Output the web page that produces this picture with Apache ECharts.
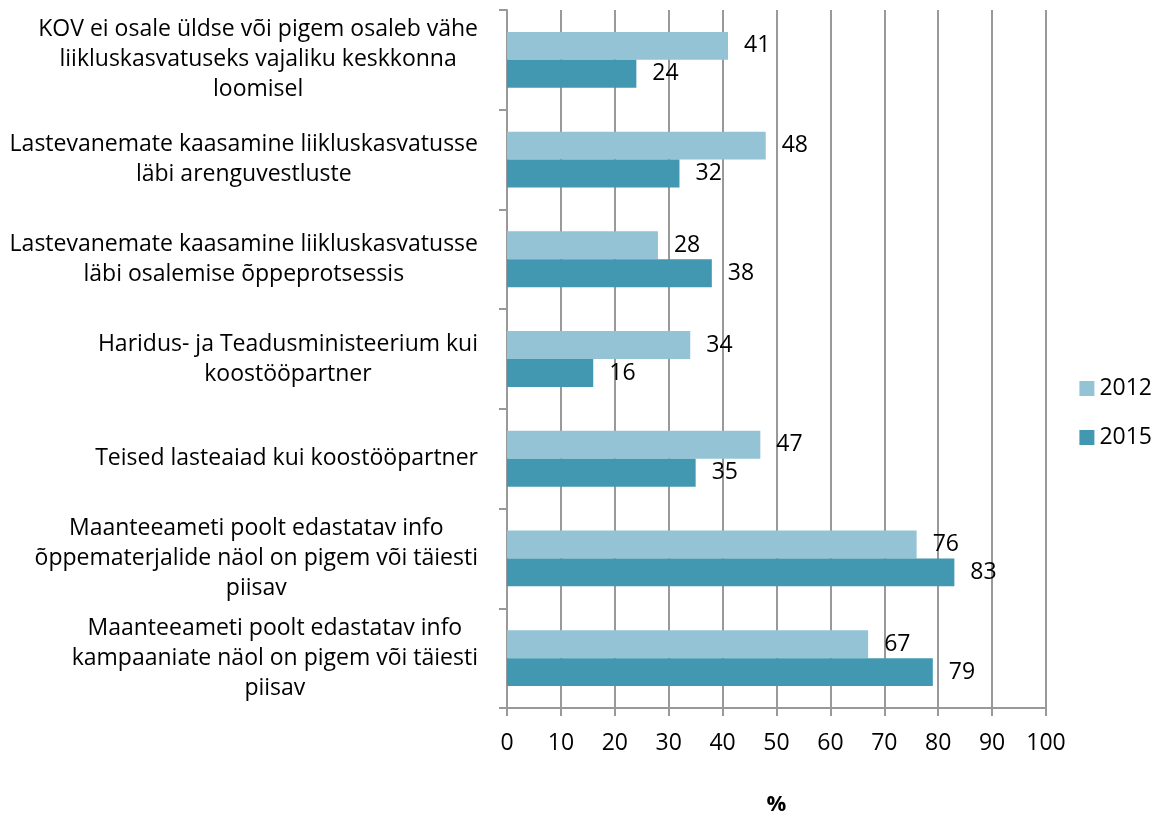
<!DOCTYPE html>
<html>
<head>
<meta charset="utf-8">
<script src="https://cdn.jsdelivr.net/npm/echarts@6/dist/echarts.min.js"></script>
<style>
  html, body { margin: 0; padding: 0; background: #fff; }
  #chart { width: 1161px; height: 814px; }
</style>
</head>
<body>
<div id="chart"></div>
<script>
const categories = [
  'KOV ei osale üldse või pigem osaleb vähe\nliikluskasvatuseks vajaliku keskkonna\nloomisel',
  'Lastevanemate kaasamine liikluskasvatusse\nläbi arenguvestluste',
  'Lastevanemate kaasamine liikluskasvatusse\nläbi osalemise õppeprotsessis',
  'Haridus- ja Teadusministeerium kui\nkoostööpartner',
  'Teised lasteaiad kui koostööpartner',
  'Maanteeameti poolt edastatav info\nõppematerjalide näol on pigem või täiesti\npiisav',
  'Maanteeameti poolt edastatav info\nkampaaniate näol on pigem või täiesti\npiisav'
];
const values2012 = [41, 48, 28, 34, 47, 76, 67];
const values2015 = [24, 32, 38, 16, 35, 83, 79];

const font = '"Open Sans", sans-serif';
const chart = echarts.init(document.getElementById('chart'));

const label = {
  show: true,
  position: 'right',
  distance: 16,
  color: '#000',
  fontSize: 23,
  fontFamily: font
};

chart.setOption({
  animation: false,
  textStyle: { fontFamily: font },
  grid: { left: 507, right: 115, top: 10, bottom: 106, outerBoundsMode: 'none', containLabel: false },
  legend: {
    orient: 'vertical',
    right: 4,
    top: 372,
    itemWidth: 15,
    itemHeight: 15,
    itemGap: 26,
    icon: 'rect',
    textStyle: { fontSize: 23, color: '#000', fontFamily: font },
    data: ['2012', '2015']
  },
  xAxis: {
    type: 'value',
    min: 0,
    max: 100,
    interval: 10,
    name: '%',
    nameLocation: 'middle',
    nameGap: 86,
    nameTextStyle: { fontSize: 22, fontWeight: 'bold', color: '#000', fontFamily: font },
    axisLine: { show: true, lineStyle: { color: '#999', width: 2 } },
    axisTick: { show: true, length: 8, lineStyle: { color: '#999', width: 2 } },
    axisLabel: { fontSize: 23, color: '#000', margin: 24, fontFamily: font },
    splitLine: { show: true, lineStyle: { color: '#999', width: 2 } }
  },
  yAxis: {
    type: 'category',
    inverse: true,
    data: categories,
    axisLine: { show: true, lineStyle: { color: '#999', width: 2 } },
    axisTick: { show: true, length: 8, lineStyle: { color: '#999', width: 2 } },
    axisLabel: {
      margin: 29,
      fontSize: 23,
      lineHeight: 30,
      color: '#000',
      fontFamily: font,
      formatter: v => v.split('\n').map(l => '{c|' + l + '}').join('\n'),
      rich: { c: { align: 'center', fontSize: 23, lineHeight: 30, fontFamily: font, color: '#000' } }
    }
  },
  series: [
    {
      name: '2012',
      type: 'bar',
      data: values2012,
      barGap: '0%',
      barCategoryGap: '44%',
      itemStyle: { color: '#93C3D4' },
      label: label
    },
    {
      name: '2015',
      type: 'bar',
      data: values2015,
      itemStyle: { color: '#4198B0' },
      label: label
    }
  ]
});
</script>
</body>
</html>
